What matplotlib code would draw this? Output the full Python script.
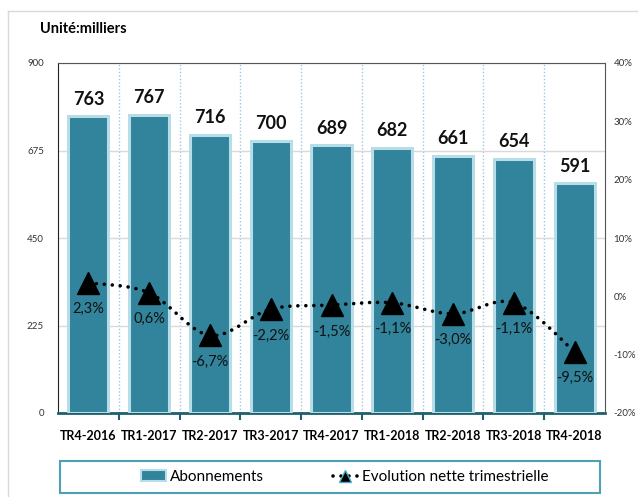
import numpy as np
import matplotlib
matplotlib.use("Agg")
import matplotlib.pyplot as plt
from matplotlib.path import Path
from matplotlib.patches import PathPatch, Patch, Rectangle
from matplotlib.lines import Line2D

plt.rcParams["font.family"] = ["Lato", "DejaVu Sans"]

quarters = ["TR4-2016", "TR1-2017", "TR2-2017", "TR3-2017", "TR4-2017",
            "TR1-2018", "TR2-2018", "TR3-2018", "TR4-2018"]
abonnements = [763, 767, 716, 700, 689, 682, 661, 654, 591]
evolution = [2.3, 0.6, -6.7, -2.2, -1.5, -1.1, -3.0, -1.1, -9.5]
evo_labels = ["2,3%", "0,6%", "-6,7%", "-2,2%", "-1,5%", "-1,1%", "-3,0%", "-1,1%", "-9,5%"]

bar_color = "#31849B"
edge_color = "#B7DEE8"

fig = plt.figure(figsize=(6.38, 4.97), dpi=100)
ax = fig.add_axes([58 / 638, 1 - 413 / 497, (605 - 58) / 638, (413 - 63) / 497])
ax2 = ax.twinx()

# outer frame (top and left lines only)
fig.add_artist(Line2D([8 / 638, 1], [1 - 11 / 497] * 2, color="#d9d9d9", lw=1))
fig.add_artist(Line2D([8 / 638] * 2, [0, 1 - 11 / 497], color="#d9d9d9", lw=1))

x = np.arange(len(quarters))
ax.bar(x, abonnements, width=0.66, color=bar_color, edgecolor=edge_color,
       linewidth=2.2, zorder=3)
for xi, v in zip(x, abonnements):
    ax.text(xi, v + 22, str(v), ha="center", va="bottom", fontsize=13,
            fontweight="bold", color="#111111", zorder=5)

ax.set_xlim(-0.5, len(quarters) - 0.5)
ax.set_ylim(0, 900)
ax.set_yticks([0, 225, 450, 675, 900])
ax.tick_params(axis="y", labelsize=7, length=0, labelcolor="#333333", pad=10)
ax.set_xticks(x)
ax.set_xticklabels(quarters, fontsize=9, fontweight="bold")
ax.set_xticks(np.arange(0.5, len(quarters) - 0.5, 1), minor=True)
ax.tick_params(axis="x", which="major", length=0, pad=12)
ax.tick_params(axis="x", which="minor", length=5, width=1.5, color="#1f5f6e")
ax.yaxis.grid(True, color="#d9d9d9", lw=1, zorder=0)
for b in np.arange(0.5, len(quarters) - 0.5, 1):
    ax.axvline(b, color="#9dc8e0", lw=1, ls=(0, (1, 1.5)), zorder=1)
ax.spines["bottom"].set_color("#1f5f6e")
ax.spines["bottom"].set_linewidth(2)
ax.spines["left"].set_color("#222222")
ax.spines["top"].set_color("#555555")
ax.spines["right"].set_visible(False)

ax2.set_ylim(-20, 40)
ax2.set_yticks([-20, -10, 0, 10, 20, 30, 40])
ax2.set_yticklabels([f"{t}%" for t in [-20, -10, 0, 10, 20, 30, 40]])
ax2.tick_params(axis="y", labelsize=7, length=0, labelcolor="#333333", pad=6)
for s in ["top", "bottom", "left"]:
    ax2.spines[s].set_visible(False)
ax2.spines["right"].set_color("#555555")

# smoothed connecting line (Catmull-Rom as cubic Bezier segments)
pts = np.column_stack([x, evolution]).astype(float)
verts = [tuple(pts[0])]
codes = [Path.MOVETO]
for i in range(len(pts) - 1):
    p0 = pts[max(i - 1, 0)]
    p1 = pts[i]
    p2 = pts[i + 1]
    p3 = pts[min(i + 2, len(pts) - 1)]
    c1 = p1 + (p2 - p0) / 6
    c2 = p2 - (p3 - p1) / 6
    verts += [tuple(c1), tuple(c2), tuple(p2)]
    codes += [Path.CURVE4] * 3
curve = PathPatch(Path(verts, codes), fill=False, edgecolor="black", lw=2.6,
                  ls=(0, (0.01, 2.2)), capstyle="round", transform=ax2.transData,
                  zorder=4)
ax2.add_patch(curve)
ax2.plot(x, evolution, ls="none", marker="^", ms=16, color="black", zorder=6)
for xi, v, lab in zip(x, evolution, evo_labels):
    ax2.annotate(lab, (xi, v), xytext=(0, -14), textcoords="offset points",
                 ha="center", va="top", fontsize=10.5, color="#111111")

# legend: frame drawn separately so it can span the reference width
fig.add_artist(Rectangle((60 / 638, 1 - 493 / 497), 540 / 638, 32 / 497,
                         transform=fig.transFigure, fill=False,
                         edgecolor="#4f9fb5", lw=1.5))
handles = [Patch(facecolor=bar_color, edgecolor=edge_color, lw=1.5),
           Line2D([], [], color="black", ls=(0, (0.01, 2.2)), lw=2.6,
                  dash_capstyle="round", marker="^", ms=8,
                  markerfacecolor="black", markeredgecolor="#4bacc6")]
fig.legend(handles, ["Abonnements", "Evolution nette trimestrielle"],
           loc="center", bbox_to_anchor=(345 / 638, 1 - 477 / 497), ncol=2,
           fontsize=11, frameon=False, columnspacing=4.5,
           handlelength=1.6, handletextpad=0.3, borderaxespad=0)

fig.text(40 / 638, 1 - 29 / 497, "Unité:milliers", fontsize=10.5,
         fontweight="bold", va="center", ha="left")

fig.savefig("out.png", dpi=100)
